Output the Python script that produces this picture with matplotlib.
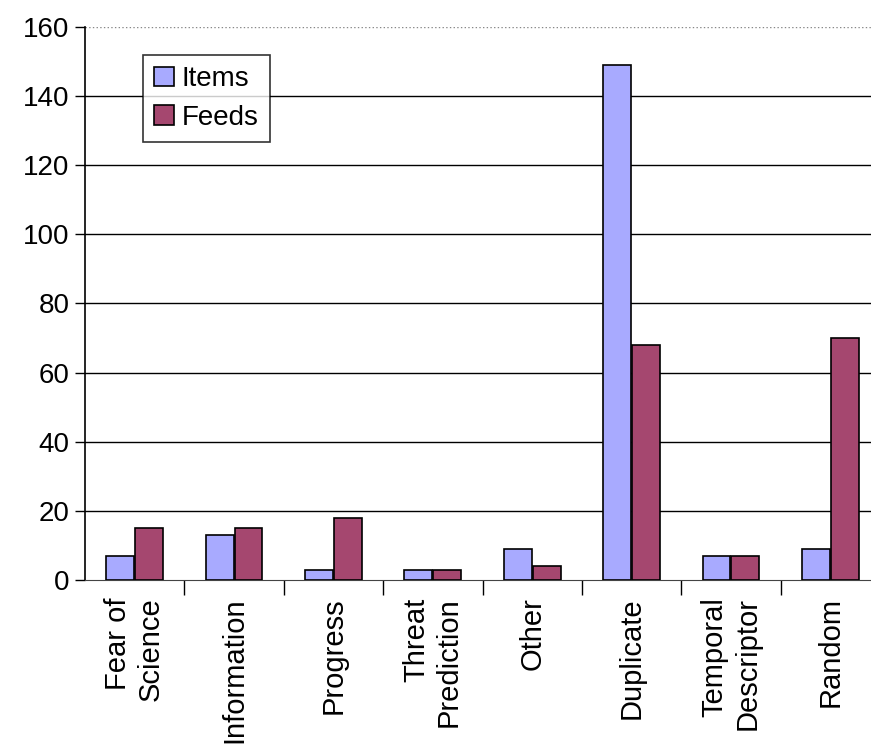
import numpy as np
import matplotlib.pyplot as plt

categories = ["Fear of\nScience", "Information", "Progress", "Threat\nPrediction",
              "Other", "Duplicate", "Temporal\nDescriptor", "Random"]
items = [7, 13, 3, 3, 9, 149, 7, 9]
feeds = [15, 15, 18, 3, 4, 68, 7, 70]
yticks = [0, 20, 40, 60, 80, 100, 120, 140, 160]

plt.rcParams['font.family'] = ['Liberation Sans', 'DejaVu Sans']

fig = plt.figure(figsize=(8.71, 7.46), dpi=100)
# plot area runs past the right edge of the picture, as in the original
ax = fig.add_axes([85 / 871, 1 - 580 / 746, 795 / 871, 553 / 746])

x = np.arange(len(categories))
w = 0.28
ax.bar(x - w / 2 - 0.005, items, w, color='#A8AAFF', edgecolor='black', linewidth=1.2,
       label='Items', zorder=3)
ax.bar(x + w / 2 + 0.005, feeds, w, color='#A5476F', edgecolor='black', linewidth=1.2,
       label='Feeds', zorder=3)

ax.set_xlim(-0.5, len(categories) - 0.5)
ax.set_ylim(0, 160)
ax.set_yticks(yticks)
ax.tick_params(axis='y', labelsize=20, length=7, width=1, direction='out', pad=4)

for y in yticks[1:-1]:
    ax.axhline(y, color='black', linewidth=1, zorder=1)
ax.axhline(160, color='#888888', linewidth=1, linestyle=':', zorder=1)

ax.set_xticks(x + 0.5, minor=False)
ax.set_xticklabels([])
ax.tick_params(axis='x', length=11, width=1, direction='out')
for i, lab in enumerate(categories):
    ax.text(i, -5.0, lab, rotation=90, ha='center', va='top', multialignment='right',
            fontsize=21, linespacing=1.2, clip_on=False)

for s in ['top', 'right']:
    ax.spines[s].set_visible(False)
ax.spines['left'].set_linewidth(1.2)
ax.spines['bottom'].set_color('#444444')

leg = ax.legend(loc='upper left', bbox_to_anchor=(0.073, 0.949), borderaxespad=0,
                fontsize=20, frameon=True, fancybox=False, edgecolor='black',
                handlelength=0.7, handleheight=0.7, handletextpad=0.3,
                borderpad=0.4, labelspacing=0.45)
leg.get_frame().set_linewidth(1.2)

fig.savefig('out.png', dpi=100)
